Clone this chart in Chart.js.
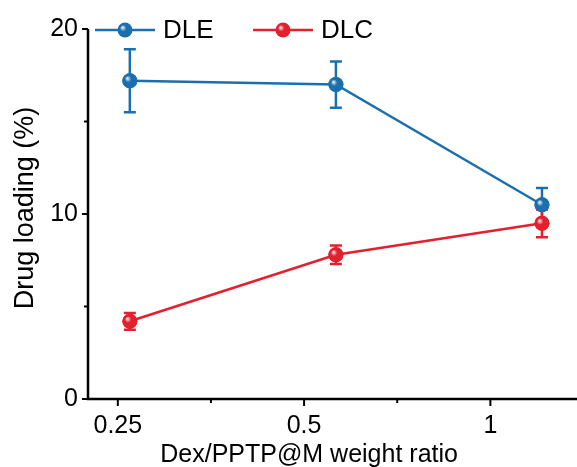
<!DOCTYPE html>
<html>
<head>
  <meta charset="UTF-8">
  <title>Drug loading</title>
  <script src="https://cdn.jsdelivr.net/npm/chart.js"></script>
  <style>
    html, body { margin: 0; background: #fff; overflow: hidden; }
    #wrap { width: 577px; height: 467px; }
    #myChart { display: block; }
  </style>
</head>
<body>
<div id="wrap"><canvas id="myChart"></canvas></div>

<script>
  // data
  var ratios = ['0.25', '0.5', '1'];
  var dle = [17.2, 17.0, 10.5];
  var dleErr = [1.7, 1.25, 0.9];
  var dlc = [4.2, 7.8, 9.5];
  var dlcErr = [0.45, 0.5, 0.75];
  var yTicks = [0, 10, 20];
  var yMinor = [5, 15];

  var blue = '#1b6fae';
  var red = '#e3202e';
  var font = 'Liberation Sans, Arial, sans-serif';

  function pts(arr) {
    return arr.map(function (v, i) { return { x: i, y: v }; });
  }

  function ball(c, x, y, col) {
    c.fillStyle = col;
    c.beginPath(); c.arc(x, y, 7.5, 0, Math.PI * 2); c.fill();
    var g = c.createRadialGradient(x - 2.5, y - 2.5, 0.5, x - 1, y - 1, 6);
    g.addColorStop(0, 'rgba(255,255,255,0.85)');
    g.addColorStop(0.5, 'rgba(255,255,255,0)');
    c.fillStyle = g;
    c.beginPath(); c.arc(x, y, 7.5, 0, Math.PI * 2); c.fill();
  }

  // error bars, axes, ticks, legend and axis titles
  var extras = {
    id: 'extras',
    beforeDatasetsDraw: function (chart) {
      var c = chart.ctx, xs = chart.scales.x, ys = chart.scales.y;
      var sets = [[dle, dleErr, blue], [dlc, dlcErr, red]];
      c.save();
      c.lineWidth = 2.5;
      sets.forEach(function (s) {
        c.strokeStyle = s[2];
        s[0].forEach(function (v, i) {
          var x = xs.getPixelForValue(i);
          var t = ys.getPixelForValue(v + s[1][i]);
          var b = ys.getPixelForValue(v - s[1][i]);
          c.beginPath();
          c.moveTo(x, t); c.lineTo(x, b);
          c.moveTo(x - 6, t); c.lineTo(x + 6, t);
          c.moveTo(x - 6, b); c.lineTo(x + 6, b);
          c.stroke();
        });
      });
      c.restore();
    },
    afterDatasetsDraw: function (chart) {
      var c = chart.ctx, xs = chart.scales.x, xl = chart.scales.xl, ys = chart.scales.y;
      var a = chart.chartArea;
      c.save();
      [[dle, blue], [dlc, red]].forEach(function (s) {
        s[0].forEach(function (v, i) {
          ball(c, xs.getPixelForValue(i), ys.getPixelForValue(v), s[1]);
        });
      });
      // axes
      c.strokeStyle = '#000';
      c.lineWidth = 2.5;
      c.beginPath();
      c.moveTo(a.left, a.top); c.lineTo(a.left, a.bottom); c.lineTo(a.right, a.bottom);
      c.stroke();
      c.lineWidth = 2;
      c.beginPath();
      yTicks.forEach(function (v) {
        var y = ys.getPixelForValue(v);
        c.moveTo(a.left, y); c.lineTo(a.left - 6, y);
      });
      yMinor.forEach(function (v) {
        var y = ys.getPixelForValue(v);
        c.moveTo(a.left, y); c.lineTo(a.left - 4, y);
      });
      ratios.forEach(function (r, i) {
        var x = xl.getPixelForValue(i);
        c.moveTo(x, a.bottom); c.lineTo(x, a.bottom + 7);
      });
      [0.5, 1.5].forEach(function (v) {
        var x = xl.getPixelForValue(v);
        c.moveTo(x, a.bottom); c.lineTo(x, a.bottom + 4);
      });
      c.stroke();
      // legend
      var ly = a.top + 1;
      c.textBaseline = 'middle';
      [['DLE', blue, 95], ['DLC', red, 253]].forEach(function (l) {
        c.strokeStyle = l[1]; c.lineWidth = 2.5;
        c.beginPath(); c.moveTo(l[2], ly); c.lineTo(l[2] + 60, ly); c.stroke();
        ball(c, l[2] + 30, ly, l[1]);
        c.fillStyle = '#000';
        c.font = '26px ' + font;
        c.textAlign = 'left';
        c.fillText(l[0], l[2] + 68, ly + 1);
      });
      // axis titles
      c.fillStyle = '#000';
      c.textAlign = 'center';
      c.font = '25px ' + font;
      c.fillText('Dex/PPTP@M weight ratio', xl.getPixelForValue(1) + 5, 455);
      c.translate(26, 208);
      c.rotate(-Math.PI / 2);
      c.font = '27px ' + font;
      c.fillText('Drug loading (%)', 0, 0);
      c.restore();
    }
  };

  var ch = {
    type: 'scatter',
    data: {
      datasets: [{
        label: 'DLE',
        data: pts(dle),
        showLine: true,
        borderColor: blue,
        backgroundColor: blue,
        borderWidth: 2.5,
        pointRadius: 7.5,
        pointBorderWidth: 0
      }, {
        label: 'DLC',
        data: pts(dlc),
        showLine: true,
        borderColor: red,
        backgroundColor: red,
        borderWidth: 2.5,
        pointRadius: 7.5,
        pointBorderWidth: 0
      }]
    },
    options: {
      responsive: true,
      maintainAspectRatio: false,
      animation: false,
      layout: { autoPadding: false, padding: { top: 29, right: 0, left: 0, bottom: 0 } },
      plugins: {
        legend: { display: false },
        tooltip: { enabled: false }
      },
      scales: {
        // data scale: the markers sit a bit right of the tick labels in the original
        x: {
          type: 'linear',
          display: false,
          min: -0.203,
          max: 2.17
        },
        // label scale
        xl: {
          type: 'linear',
          position: 'bottom',
          min: -0.16,
          max: 2.465,
          grid: { display: false, drawTicks: false },
          border: { display: false },
          afterBuildTicks: function (s) {
            s.ticks = ratios.map(function (r, i) { return { value: i }; });
          },
          afterFit: function (s) {
            s.height = 68;
            s.paddingLeft = 0;
            s.paddingRight = 0;
          },
          ticks: {
            padding: 12,
            maxRotation: 0,
            color: '#000',
            font: { size: 25, family: font },
            callback: function (v) { return ratios[v]; }
          }
        },
        y: {
          min: 0,
          max: 20,
          grid: { display: false, drawTicks: false },
          border: { display: false },
          afterBuildTicks: function (s) {
            s.ticks = yTicks.map(function (v) { return { value: v }; });
          },
          afterFit: function (s) { s.width = 88; },
          ticks: {
            padding: 10,
            color: '#000',
            font: { size: 25, family: font }
          }
        }
      }
    },
    plugins: [extras]
  };

  var chart = new Chart(document.getElementById('myChart'), ch);
</script>
</body>
</html>
